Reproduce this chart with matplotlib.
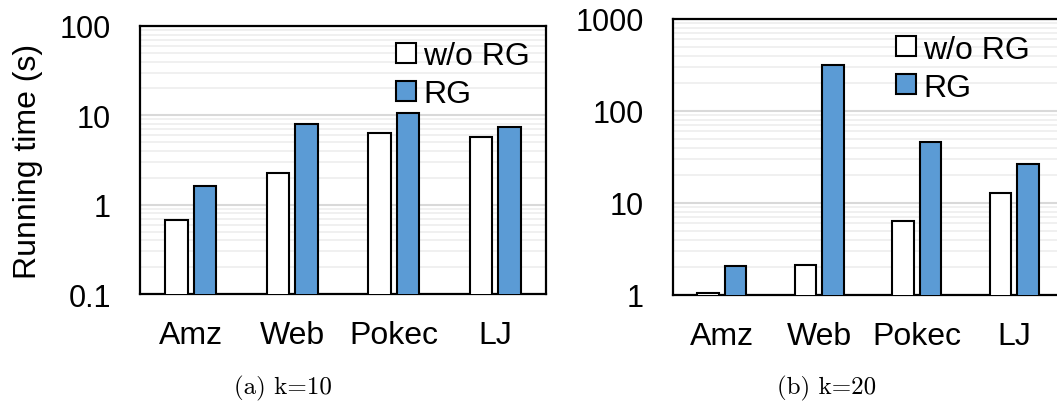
import matplotlib
matplotlib.use("Agg")
import matplotlib.pyplot as plt
from matplotlib.patches import Patch
from matplotlib.ticker import LogLocator, FixedLocator, NullFormatter

plt.rcParams["font.family"] = ["Liberation Sans", "DejaVu Sans"]

datasets = ["Amz", "Web", "Pokec", "LJ"]
series = ["w/o RG", "RG"]

# running time (s), k=10
k10_wo_rg = [0.68, 2.25, 6.3, 5.75]
k10_rg = [1.63, 7.9, 10.6, 7.4]

# running time (s), k=20
k20_wo_rg = [1.05, 2.13, 6.4, 12.9]
k20_rg = [2.08, 320, 45.5, 26.7]

captions = ["(a) k=10", "(b) k=20"]

BLUE = "#5B9BD5"
fig = plt.figure(figsize=(10.57, 4.02), dpi=100)


def draw_panel(ax, wo, rg, ylim, yticks, legend_x):
    x = range(len(datasets))
    w = 0.22
    off = 0.14
    ax.bar([i - off for i in x], wo, w, color="white", edgecolor="black",
           linewidth=1.5, zorder=3)
    ax.bar([i + off for i in x], rg, w, color=BLUE, edgecolor="black",
           linewidth=1.5, zorder=3)
    ax.set_yscale("log")
    ax.set_ylim(*ylim)
    ax.set_xlim(-0.5, 3.5)
    ax.yaxis.set_major_locator(FixedLocator(yticks))
    ax.set_yticklabels([f"{t:g}" for t in yticks])
    ax.yaxis.set_minor_locator(LogLocator(base=10, subs=range(2, 10)))
    ax.yaxis.set_minor_formatter(NullFormatter())
    ax.grid(axis="y", which="major", color="#d9d9d9", linewidth=1.5, zorder=0)
    ax.grid(axis="y", which="minor", color="#ededed", linewidth=1.2, zorder=0)
    ax.set_axisbelow(True)
    ax.set_xticks(list(x))
    ax.set_xticklabels(datasets, fontsize=23)
    ax.tick_params(axis="y", which="both", length=0, pad=21, labelsize=22)
    ax.tick_params(axis="x", length=0, pad=19)
    for sp in ax.spines.values():
        sp.set_linewidth(1.6)
    handles = [Patch(facecolor="white", edgecolor="black", linewidth=1.5),
               Patch(facecolor=BLUE, edgecolor="black", linewidth=1.5)]
    ax.legend(handles, series, loc="upper left", bbox_to_anchor=(legend_x, 0.99),
              frameon=False, fontsize=23, handlelength=0.6, handleheight=0.6,
              handletextpad=0.25, labelspacing=0.25, borderaxespad=0.0)


ax1 = fig.add_axes([0.1325, 0.266, 0.384, 0.667])
draw_panel(ax1, k10_wo_rg, k10_rg, (0.1, 100), [0.1, 1, 10, 100], 0.6)
ax1.set_ylabel("Running time (s)", fontsize=23)
ax1.yaxis.set_label_coords(-0.24, 0.5)

ax2 = fig.add_axes([0.6367, 0.2637, 0.369, 0.6866])
draw_panel(ax2, k20_wo_rg, k20_rg, (1, 1000), [1, 10, 100, 1000], 0.54)

fig.text(283 / 1057, 1 - 388 / 402, captions[0], fontsize=18, family="cmr10",
         ha="center", va="center")
fig.text(827 / 1057, 1 - 388 / 402, captions[1], fontsize=18, family="cmr10",
         ha="center", va="center")

fig.savefig("out.png", dpi=100)
